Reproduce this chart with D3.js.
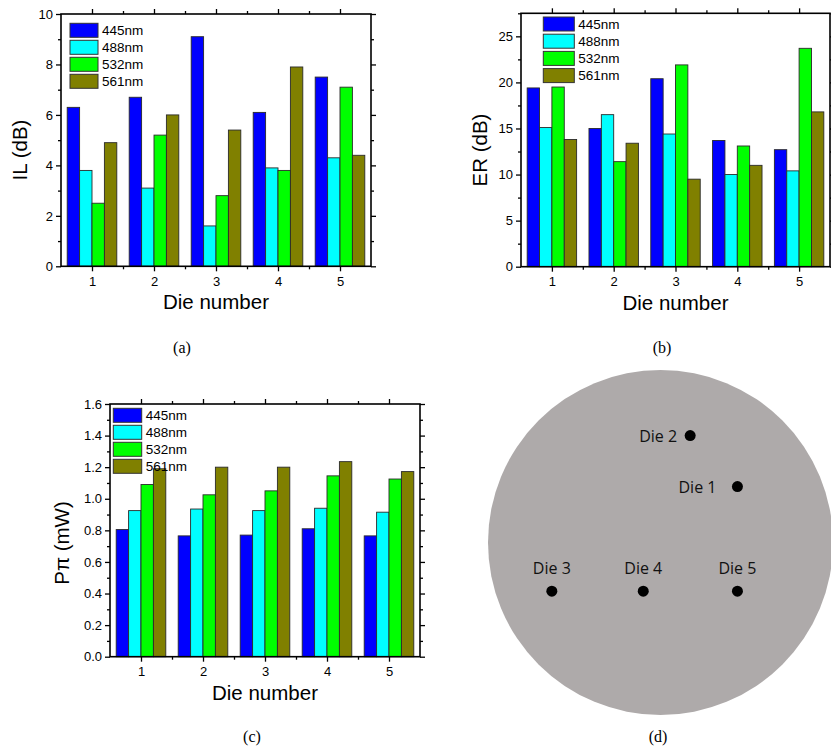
<!DOCTYPE html>
<html>
<head>
<meta charset="utf-8">
<script src="https://cdn.jsdelivr.net/npm/d3@7"></script>
<style>
  html, body { margin: 0; padding: 0; background: #fff; }
  svg { display: block; }
</style>
</head>
<body>
<svg id="chart" width="831" height="750"></svg>
<script>
// ---------------- DATA ----------------
const dies = [1, 2, 3, 4, 5];
const series = ["445nm", "488nm", "532nm", "561nm"];
const seriesColors = ["#0000ff", "#00ffff", "#00ff00", "#808000"];

// (a) Insertion loss IL (dB)
const il445 = [6.3, 6.7, 9.1, 6.1, 7.5];
const il488 = [3.8, 3.1, 1.6, 3.9, 4.3];
const il532 = [2.5, 5.2, 2.8, 3.8, 7.1];
const il561 = [4.9, 6.0, 5.4, 7.9, 4.4];
const ilTicks = [0, 2, 4, 6, 8, 10];

// (b) Extinction ratio ER (dB)
const er445 = [19.4, 15.0, 20.4, 13.7, 12.7];
const er488 = [15.1, 16.5, 14.4, 10.0, 10.4];
const er532 = [19.5, 11.4, 21.9, 13.1, 23.7];
const er561 = [13.8, 13.4, 9.5, 11.0, 16.8];
const erTicks = [0, 5, 10, 15, 20, 25];

// (c) P_pi (mW)
const pp445 = [0.805, 0.765, 0.770, 0.810, 0.765];
const pp488 = [0.925, 0.935, 0.925, 0.940, 0.915];
const pp532 = [1.090, 1.025, 1.050, 1.145, 1.125];
const pp561 = [1.190, 1.200, 1.200, 1.235, 1.172];
const ppTicks = [0, 0.2, 0.4, 0.6, 0.8, 1.0, 1.2, 1.4, 1.6];

// (d) die positions on the wafer (mm from wafer centre, y up), wafer radius 50 mm
const dieNames = ["Die 1", "Die 2", "Die 3", "Die 4", "Die 5"];
const dieX = [22.3, 8.6, -31.5, -5.0, 22.3];
const dieY = [16.2, 31.0, -14.1, -14.1, -14.1];
const waferRadius = 50;

const captions = ["(a)", "(b)", "(c)", "(d)"];

// ---------------- DRAWING ----------------
const svg = d3.select("#chart");
const SANS = "'Liberation Sans', Arial, sans-serif";

function drawPanel(cfg) {
  const g = svg.append("g");
  const xBand = d3.scaleBand().domain(dies).range([cfg.left, cfg.right])
    .paddingInner(0.2).paddingOuter(0.1);
  const xLin = d3.scaleLinear().domain([0.5, 5.5]).range([cfg.left, cfg.right]);
  const xSub = d3.scaleBand().domain(series).range([0, xBand.bandwidth()]);
  const y = d3.scaleLinear().domain([0, cfg.ymax]).range([cfg.bottom, cfg.top]);

  // bars
  series.forEach((s, si) => {
    const vals = cfg.data[si];
    g.append("g").selectAll("rect").data(dies).join("rect")
      .attr("x", (d) => xBand(d) + xSub(s))
      .attr("y", (d, i) => y(vals[i]))
      .attr("width", xSub.bandwidth())
      .attr("height", (d, i) => y(0) - y(vals[i]))
      .attr("fill", seriesColors[si])
      .attr("stroke", "#2a2a2a")
      .attr("stroke-width", 0.9);
  });

  const xMinor = d3.range(1.5, 5.5, 1);
  const yMinor = d3.range(cfg.yMinorStep, cfg.ymax + 1e-9, cfg.yMinorStep * 2);

  function styleAxis(sel) {
    sel.select(".domain").remove();
    sel.selectAll(".tick line").attr("stroke", "#000").attr("stroke-width", 1.3);
    sel.selectAll(".tick text").attr("font-family", SANS).attr("font-size", 13).attr("fill", "#000");
  }

  // bottom
  g.append("g").attr("transform", `translate(0,${cfg.bottom})`)
    .call(d3.axisBottom(xLin).tickValues(dies).tickSize(5).tickPadding(5).tickFormat(d3.format("d")))
    .call(styleAxis);
  g.append("g").attr("transform", `translate(0,${cfg.bottom})`)
    .call(d3.axisBottom(xLin).tickValues(xMinor).tickSize(3).tickFormat(""))
    .call(styleAxis);
  // top
  g.append("g").attr("transform", `translate(0,${cfg.top})`)
    .call(d3.axisTop(xLin).tickValues(dies).tickSize(5).tickFormat(""))
    .call(styleAxis);
  g.append("g").attr("transform", `translate(0,${cfg.top})`)
    .call(d3.axisTop(xLin).tickValues(xMinor).tickSize(3).tickFormat(""))
    .call(styleAxis);
  // left
  g.append("g").attr("transform", `translate(${cfg.left},0)`)
    .call(d3.axisLeft(y).tickValues(cfg.yTicks).tickSize(5).tickPadding(3).tickFormat(cfg.fmt))
    .call(styleAxis);
  g.append("g").attr("transform", `translate(${cfg.left},0)`)
    .call(d3.axisLeft(y).tickValues(yMinor).tickSize(3).tickFormat(""))
    .call(styleAxis);
  // right
  g.append("g").attr("transform", `translate(${cfg.right},0)`)
    .call(d3.axisRight(y).tickValues(cfg.yTicks).tickSize(5).tickFormat(""))
    .call(styleAxis);
  g.append("g").attr("transform", `translate(${cfg.right},0)`)
    .call(d3.axisRight(y).tickValues(yMinor).tickSize(3).tickFormat(""))
    .call(styleAxis);

  // frame
  g.append("rect")
    .attr("x", cfg.left).attr("y", cfg.top)
    .attr("width", cfg.right - cfg.left).attr("height", cfg.bottom - cfg.top)
    .attr("fill", "none").attr("stroke", "#000").attr("stroke-width", 1.6);

  // legend
  const lg = g.append("g").attr("transform", `translate(${cfg.legX},${cfg.legY})`);
  series.forEach((s, si) => {
    lg.append("rect")
      .attr("x", 0).attr("y", si * cfg.legStep)
      .attr("width", cfg.legW).attr("height", 14)
      .attr("fill", seriesColors[si]).attr("stroke", "#333").attr("stroke-width", 1);
    lg.append("text")
      .attr("x", cfg.legW + 4).attr("y", si * cfg.legStep + 7)
      .attr("dy", "0.36em")
      .attr("font-family", SANS).attr("font-size", 13.5).attr("fill", "#000")
      .text(s);
  });

  // axis titles
  g.append("text")
    .attr("x", (cfg.left + cfg.right) / 2).attr("y", cfg.bottom + 43)
    .attr("text-anchor", "middle")
    .attr("font-family", SANS).attr("font-size", 20.5).attr("fill", "#000")
    .text("Die number");
  g.append("text")
    .attr("transform", `translate(${cfg.ylabX},${cfg.ylabY}) rotate(-90)`)
    .attr("text-anchor", "middle")
    .attr("font-family", SANS).attr("font-size", 20.5).attr("fill", "#000")
    .text(cfg.ylabel);
}

drawPanel({
  left: 61, right: 371, top: 14, bottom: 266.3, ymax: 10, yTicks: ilTicks, yMinorStep: 1,
  fmt: d3.format("d"), data: [il445, il488, il532, il561],
  ylabel: "IL (dB)", ylabX: 27, ylabY: 150,
  legX: 70, legY: 23.3, legW: 28, legStep: 17
});
drawPanel({
  left: 521, right: 830, top: 13.3, bottom: 266.7, ymax: 27.5, yTicks: erTicks, yMinorStep: 2.5,
  fmt: d3.format("d"), data: [er445, er488, er532, er561],
  ylabel: "ER (dB)", ylabX: 487, ylabY: 150,
  legX: 543.3, legY: 17, legW: 31, legStep: 17.2
});
drawPanel({
  left: 110, right: 420, top: 404, bottom: 656.7, ymax: 1.6, yTicks: ppTicks, yMinorStep: 0.1,
  fmt: d3.format(".1f"), data: [pp445, pp488, pp532, pp561],
  ylabel: "P\u03c0 (mW)", ylabX: 69, ylabY: 543,
  legX: 113.3, legY: 408.3, legW: 28.4, legStep: 17
});

// (d) wafer map
const wcx = 660.5, wcy = 542.5, wr = 172.5;
const wx = d3.scaleLinear().domain([-waferRadius, waferRadius]).range([wcx - wr, wcx + wr]);
const wy = d3.scaleLinear().domain([-waferRadius, waferRadius]).range([wcy + wr, wcy - wr]);
const wafer = svg.append("g");
wafer.append("circle")
  .attr("cx", wx(0)).attr("cy", wy(0)).attr("r", wx(waferRadius) - wx(0))
  .attr("fill", "#aeaaaa");
wafer.selectAll("circle.die").data(dieNames).join("circle")
  .attr("class", "die")
  .attr("cx", (d, i) => wx(dieX[i])).attr("cy", (d, i) => wy(dieY[i]))
  .attr("r", 5.5).attr("fill", "#000");
// label placement: dies 1,2 labelled to the left, dies 3-5 above
wafer.selectAll("text.die").data(dieNames).join("text")
  .attr("class", "die")
  .attr("x", (d, i) => i < 2 ? wx(dieX[i]) - (i === 0 ? 21 : 13) : wx(dieX[i]))
  .attr("y", (d, i) => i < 2 ? wy(dieY[i]) + 6 : wy(dieY[i]) - 17)
  .attr("text-anchor", (d, i) => i < 2 ? "end" : "middle")
  .attr("font-family", "'Open Sans', 'Noto Sans', sans-serif")
  .attr("font-size", 16).attr("fill", "#111")
  .text((d) => d);

// captions
const capX = [182, 662, 252, 658];
const capY = [353, 353, 742, 742];
svg.selectAll("text.cap").data(captions).join("text")
  .attr("class", "cap")
  .attr("x", (d, i) => capX[i]).attr("y", (d, i) => capY[i])
  .attr("text-anchor", "middle")
  .attr("font-family", "'Liberation Serif', 'Times New Roman', serif")
  .attr("font-size", 16).attr("fill", "#000")
  .text((d) => d);
</script>
</body>
</html>
